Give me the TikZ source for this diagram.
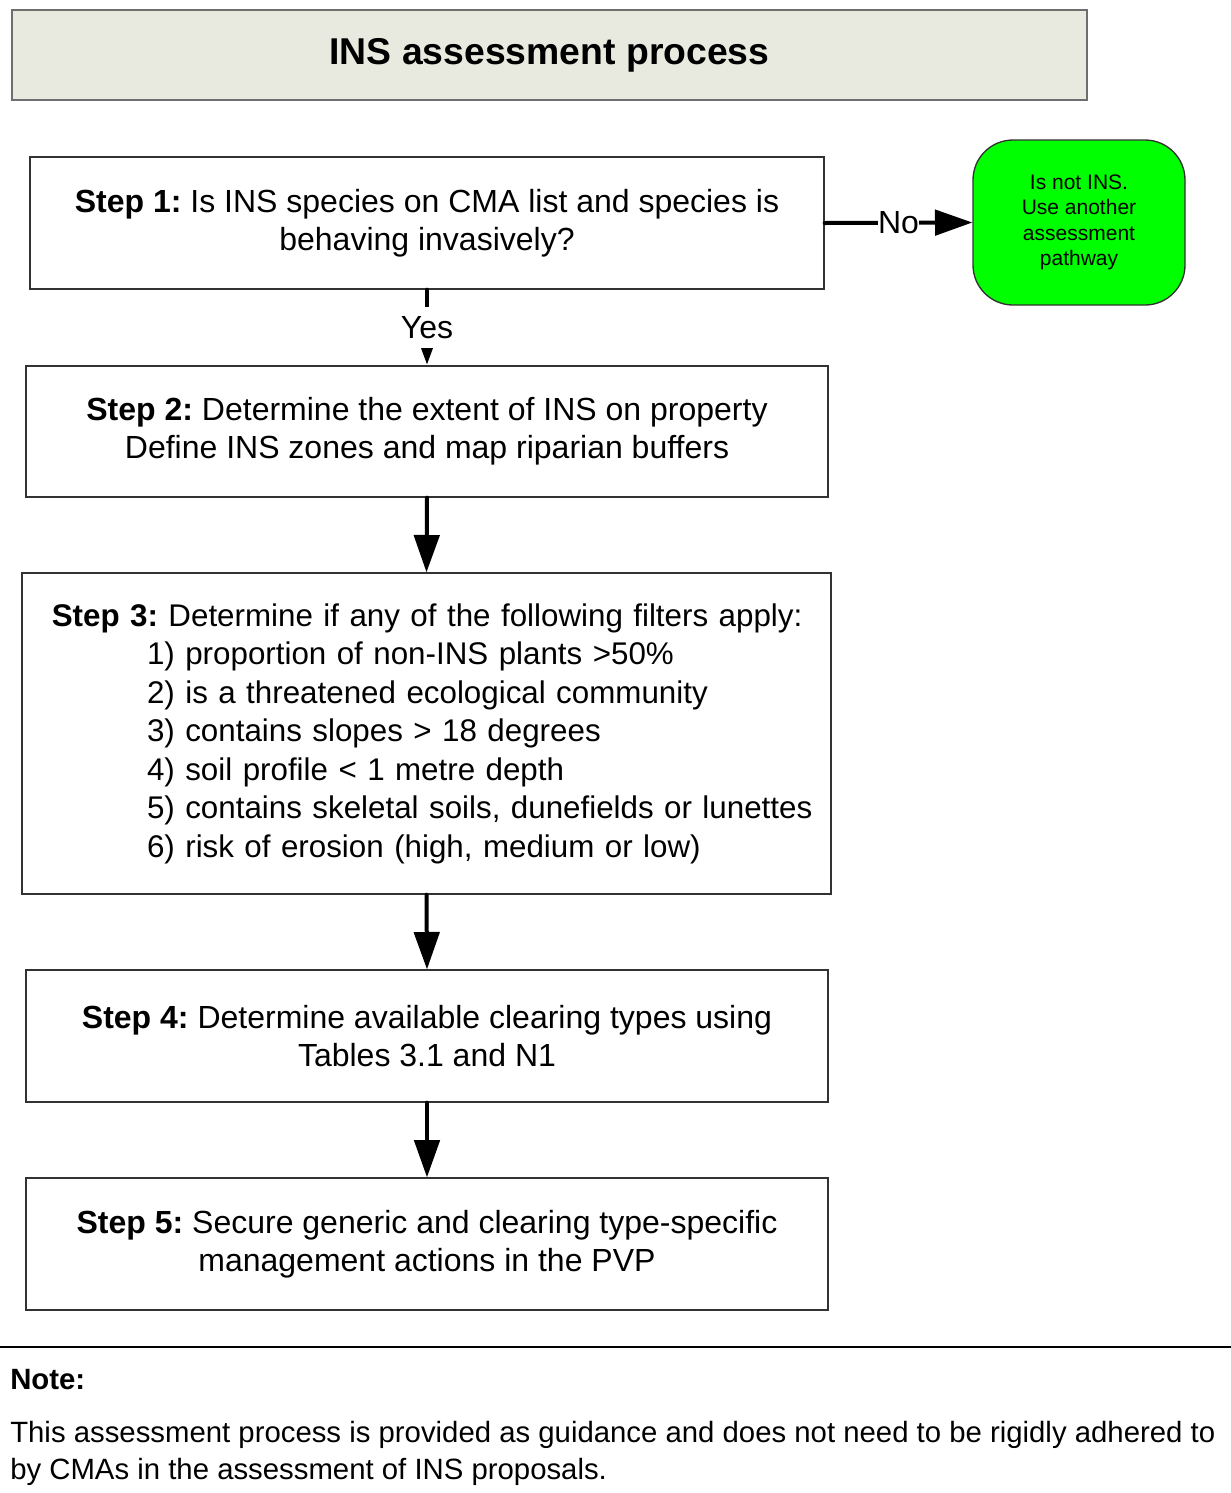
\documentclass[tikz,border=0pt]{standalone}
\usepackage{fontspec}
\setmainfont{Liberation Sans}
\usetikzlibrary{arrows.meta}
\definecolor{titlefill}{RGB}{233,234,223}
\definecolor{titleline}{RGB}{110,110,110}
\definecolor{boxline}{RGB}{50,50,50}
\definecolor{okgreen}{RGB}{0,255,0}
\begin{document}
\frenchspacing\hyphenpenalty=10000
\begin{tikzpicture}[x=0.75pt,y=-0.75pt,
  stepbox/.style={draw=boxline, line width=1pt, fill=white, align=center,
    font=\fontsize{24}{28.6}\selectfont, inner sep=0pt},
  flowarrow/.style={line width=3pt, line cap=round, -{Triangle[width=19pt,length=28pt]}},
  lbl/.style={fill=white, font=\fontsize{24}{28.6}\selectfont}
]
\useasboundingbox (0,0) rectangle (1231,1493);
% title
\node[draw=titleline, line width=1.5pt, fill=titlefill, minimum width=806.25pt, minimum height=67.5pt,
  font=\fontsize{28}{33}\selectfont\bfseries] (title) at (549.5,55) {INS assessment process};
% steps
\node[stepbox, minimum width=595.5pt, minimum height=99pt] (s1) at (427,223)
  {\textbf{Step 1:} Is INS species on CMA list and species is\\behaving invasively?};
\node[draw=boxline, line width=1pt, fill=okgreen, rounded corners=30pt, minimum width=159pt,
  minimum height=123.75pt, align=center, font=\fontsize{15.75}{19.1}\selectfont] (ni) at (1079,222.5)
  {Is not INS.\\Use another\\assessment\\pathway};
\node[stepbox, minimum width=601.5pt, minimum height=98.25pt] (s2) at (427,431.5)
  {\textbf{Step 2:} Determine the extent of INS on property\\Define INS zones and map riparian buffers};
\node[stepbox, minimum width=606.75pt, minimum height=240.75pt, text width=600pt, align=left,
  font=\fontsize{23.5}{28.9}\selectfont] (s3) at (426.5,733.5)
  {\hspace*{19pt}\textbf{Step 3:} Determine if any of the following filters apply:\\
   \hspace*{90.4pt}1) proportion of non-INS plants >50\%\\
   \hspace*{90.4pt}2) is a threatened ecological community\\
   \hspace*{90.4pt}3) contains slopes > 18 degrees\\
   \hspace*{90.4pt}4) soil profile < 1 metre depth\\
   \hspace*{90.4pt}5) contains skeletal soils, dunefields or lunettes\\
   \hspace*{90.4pt}6) risk of erosion (high, medium or low)};
\node[stepbox, minimum width=601.5pt, minimum height=99pt] (s4) at (427,1036)
  {\textbf{Step 4:} Determine available clearing types using\\Tables 3.1 and N1};
\node[stepbox, minimum width=601.5pt, minimum height=99pt] (s5) at (427,1244)
  {\textbf{Step 5:} Secure generic and clearing type-specific\\management actions in the PVP};
% connectors
\draw[flowarrow] (s1.east) -- node[lbl, inner xsep=0pt, inner ysep=1pt] {No} (ni.west);
\draw[line width=3pt, line cap=round, -{Triangle[width=8pt,length=13pt]}] (s1.south) --
  node[lbl, inner xsep=3pt, inner ysep=7pt, text height=17pt, text depth=0pt] {Yes} (s2.north);
\draw[flowarrow] (s2.south) -- (s3.north);
\draw[flowarrow] (s3.south) -- (s4.north);
\draw[flowarrow] (s4.south) -- (s5.north);
% note
\draw[line width=1.8pt] (0,1347) -- (1231,1347);
\node[anchor=base west, inner sep=0pt, font=\fontsize{22}{27}\selectfont\bfseries] (note) at (10,1389) {Note:};
\node[anchor=base west, inner sep=0pt, font=\fontsize{22}{27}\selectfont] (n1) at (10,1442)
  {This assessment process is provided as guidance and does not need to be rigidly adhered to};
\node[anchor=base west, inner sep=0pt, font=\fontsize{22}{27}\selectfont] (n2) at (10,1479)
  {by CMAs in the assessment of INS proposals.};
\end{tikzpicture}
\end{document}
